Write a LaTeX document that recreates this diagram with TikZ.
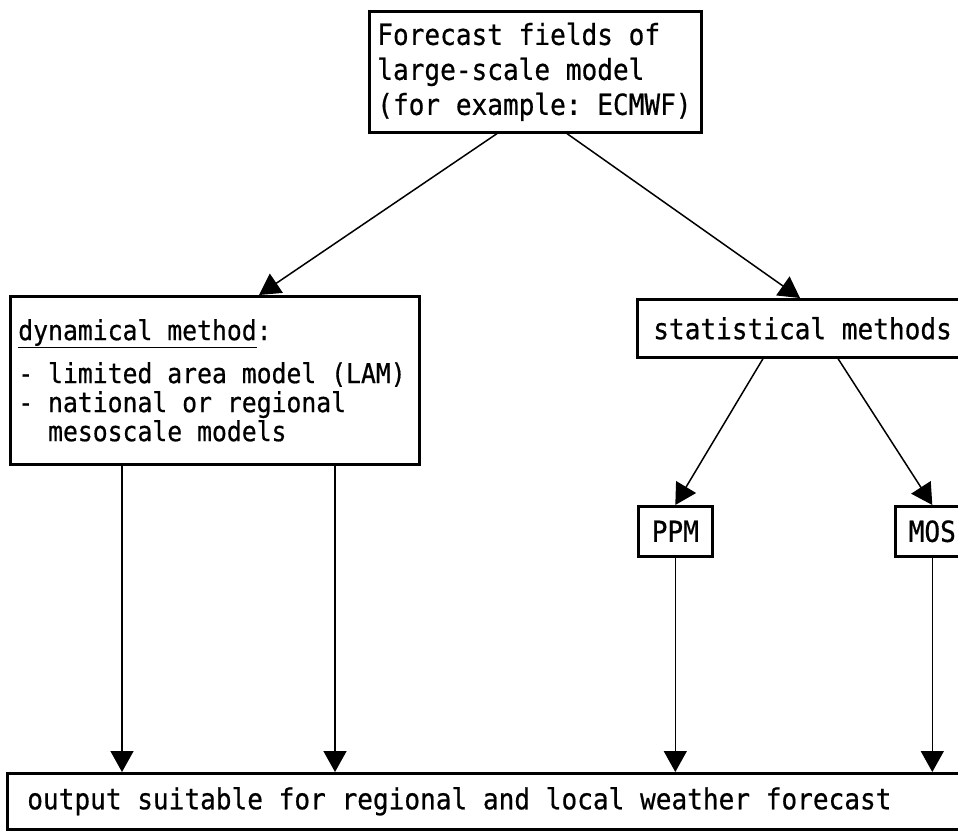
\documentclass[tikz,border=0pt]{standalone}
\usepackage{fontspec}
\setmonofont[FakeStretch=0.9,FakeBold=0.6]{DejaVu Sans Mono}
\usetikzlibrary{arrows.meta}
\newcommand\mysz[2]{\ttfamily\fontsize{#1}{#2}\selectfont}
\newcommand\ms{\spaceskip=0.5418em\relax\xspaceskip=0.5418em\relax}
\begin{document}
\begin{tikzpicture}[x=1pt,y=-1pt,
  box/.style={draw, line width=2.6pt, anchor=north west, inner ysep=0pt, align=left},
  arr/.style={line width=1.5pt, -{Triangle[length=21pt,width=23pt]}}]
\useasboundingbox (0,0) rectangle (958,831);
\clip (0,0) rectangle (958,831);
% boxes
\node[box, text width=316pt, inner xsep=8pt, minimum width=332pt, minimum height=121pt,
      font=\mysz{29}{35}] (top) at (368,10)
  {\ms Forecast fields of\\large-scale model\\(for example: ECMWF)};
\node[box, text width=393pt, inner xsep=8pt, minimum width=409pt, minimum height=168pt,
      font=\mysz{27.5}{29}] (dyn) at (9,295)
  {\ms\underline{dynamical method}:\\[14pt]- limited area model (LAM)\\- national or regional\\\hphantom{-~}mesoscale models};
\node[box, text width=308pt, inner xsep=15pt, minimum width=340pt, minimum height=58pt,
      font=\mysz{29}{31}] (stat) at (636,298)
  {\ms statistical methods};
\node[box, inner xsep=0pt, minimum width=74pt, minimum height=50pt, align=center,
      font=\mysz{29}{31}] (ppm) at (637,505) {PPM};
\node[box, inner xsep=0pt, minimum width=74pt, minimum height=50pt, align=center,
      font=\mysz{29}{31}] (mos) at (894,505) {MOS};
\node[box, text width=925pt, inner xsep=20pt, minimum width=965pt, minimum height=56pt,
      font=\mysz{29}{31}] (out) at (6,772)
  {\ms output suitable for regional and local weather forecast};
% connectors
\draw[arr] ([xshift=129pt]top.south west) -- ([xshift=250pt]dyn.north west);
\draw[arr] ([xshift=199pt]top.south west) -- ([xshift=164pt]stat.north west);
\draw[arr] ([xshift=127pt]stat.south west) -- (ppm.north);
\draw[arr] ([xshift=202pt]stat.south west) -- (mos.north);
\draw[arr] ([xshift=113pt]dyn.south west) -- ([xshift=116pt]out.north west);
\draw[arr] ([xshift=326pt]dyn.south west) -- ([xshift=329pt]out.north west);
\draw[arr] (ppm.south) -- (ppm.south |- out.north);
\draw[arr] (mos.south) -- (mos.south |- out.north);
\end{tikzpicture}
\end{document}
